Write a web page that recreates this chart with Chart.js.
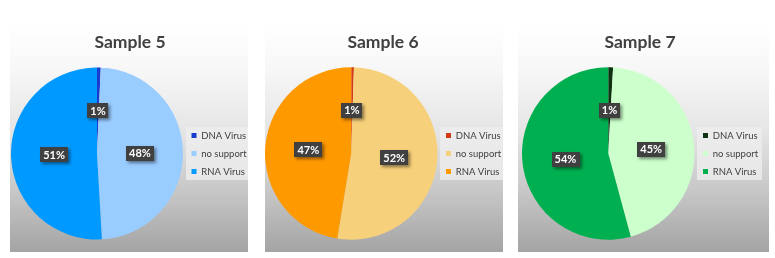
<!DOCTYPE html>
<html>
<head>
<meta charset="utf-8">
<script src="https://cdn.jsdelivr.net/npm/chart.js@4/dist/chart.umd.min.js"></script>
<style>
  body { margin: 0; background: #fff; width: 775px; height: 258px; position: relative; overflow: hidden; }
  .panel { position: absolute; top: 24px; height: 228px;
    background: linear-gradient(to bottom, #ffffff 0%, #f7f7f7 20%, #e4e4e4 48%, #c6c6c6 74%, #a4a4a4 100%); }
  .panel canvas { display: block; }
</style>
</head>
<body>
<div class="panel" style="left:10px;width:238px"><canvas id="chart5"></canvas></div>
<div class="panel" style="left:265px;width:238px"><canvas id="chart6"></canvas></div>
<div class="panel" style="left:518px;width:251px"><canvas id="chart7"></canvas></div>
<script>
// data (percent)
var categories = ['DNA Virus', 'no support', 'RNA Virus'];
var titles = ['Sample 5', 'Sample 6', 'Sample 7'];
var sample5 = [0.7, 48.4, 50.9];
var sample6 = [0.5, 52.1, 47.4];
var sample7 = [0.9, 44.9, 54.2];

var colors5 = ['#1a3ccf', '#99ccff', '#0099ff'];
var colors6 = ['#d13a12', '#f6d07a', '#ff9900'];
var colors7 = ['#0e3313', '#ccffcc', '#00b050'];

var FONT = 'Lato, "Noto Sans", sans-serif';
var LEG_SIZE = 9.5, LEG_PAD = 8.5, LEG_BOX = 5;

// width Chart.js will give a one-column right legend
function legendWidth() {
  var c = document.createElement('canvas').getContext('2d');
  c.font = LEG_SIZE + 'px ' + FONT;
  var w = 0;
  categories.forEach(function(t) { w = Math.max(w, c.measureText(t).width); });
  return LEG_PAD + LEG_BOX + LEG_SIZE / 2 + w + 10;
}

// keep the title centred on the panel, not on the padded box
var titleCentre = {
  id: 'titleCentre',
  afterLayout: function(chart, args, opts) {
    var t = chart.titleBlock;
    if (!t) return;
    var half = chart.width / 2;
    t.left = opts.centre - half;
    t.right = opts.centre + half;
  }
};

// light box behind the legend
var legendBox = {
  id: 'legendBox',
  beforeDraw: function(chart) {
    var boxes = chart.legend && chart.legend.legendHitBoxes;
    if (!boxes || !boxes.length) return;
    var l = Infinity, r = -Infinity, t = Infinity, b = -Infinity;
    boxes.forEach(function(h) {
      l = Math.min(l, h.left); r = Math.max(r, h.left + h.width);
      t = Math.min(t, h.top + h.height / 2); b = Math.max(b, h.top + h.height / 2);
    });
    var ctx = chart.ctx;
    ctx.save();
    ctx.fillStyle = 'rgba(238,238,238,0.8)';
    ctx.fillRect(Math.round(l - 6), Math.round(t - 9), Math.round(r - l + 10), Math.round(b - t + 17));
    ctx.restore();
  }
};

// dark callout labels with percentages
var pctLabels = {
  id: 'pctLabels',
  afterDatasetsDraw: function(chart) {
    var ctx = chart.ctx;
    var data = chart.data.datasets[0].data;
    var sum = data.reduce(function(a, v) { return a + v; }, 0);
    ctx.save();
    ctx.font = 'bold 11px ' + FONT;
    ctx.textAlign = 'center';
    ctx.textBaseline = 'middle';
    chart.getDatasetMeta(0).data.forEach(function(arc, i) {
      var pos = arc.tooltipPosition();
      var txt = Math.round(data[i] / sum * 100) + '%';
      var w = ctx.measureText(txt).width + 6, h = 15;
      ctx.save();
      ctx.shadowColor = 'rgba(0,0,0,0.45)';
      ctx.shadowBlur = 3;
      ctx.shadowOffsetX = 2;
      ctx.shadowOffsetY = 2;
      ctx.fillStyle = '#404040';
      ctx.fillRect(Math.round(pos.x - w / 2), Math.round(pos.y - h / 2), Math.round(w), h);
      ctx.restore();
      ctx.fillStyle = '#ffffff';
      ctx.fillText(txt, pos.x, pos.y + 0.5);
    });
    ctx.restore();
  }
};

function makePie(id, title, values, colors, width, padLeft, legendLeft, titleX) {
  var padRight = width - legendLeft - legendWidth();
  return new Chart(document.getElementById(id), {
    type: 'pie',
    data: {
      labels: categories,
      datasets: [{
        data: values,
        backgroundColor: colors,
        borderWidth: 0
      }]
    },
    options: {
      responsive: true,
      maintainAspectRatio: false,
      animation: false,
      layout: { padding: { left: padLeft, right: padRight, top: 0, bottom: 12 } },
      plugins: {
        titleCentre: { centre: titleX },
        title: {
          display: true,
          text: title,
          color: '#404040',
          font: { family: FONT, size: 17.5, weight: 'bold' },
          padding: { top: 8, bottom: 14 }
        },
        legend: {
          position: 'right',
          fullSize: false,
          labels: {
            color: '#404040',
            font: { family: FONT, size: LEG_SIZE },
            boxWidth: LEG_BOX,
            boxHeight: LEG_BOX,
            padding: LEG_PAD
          }
        },
        tooltip: { enabled: false }
      }
    },
    plugins: [titleCentre, legendBox, pctLabels]
  });
}

var chart5 = makePie('chart5', titles[0], sample5, colors5, 238, 1, 173, 120);
var chart6 = makePie('chart6', titles[1], sample6, colors6, 238, 0, 172.5, 118);
var chart7 = makePie('chart7', titles[2], sample7, colors7, 251, 4, 176.5, 122);
</script>
</body>
</html>
